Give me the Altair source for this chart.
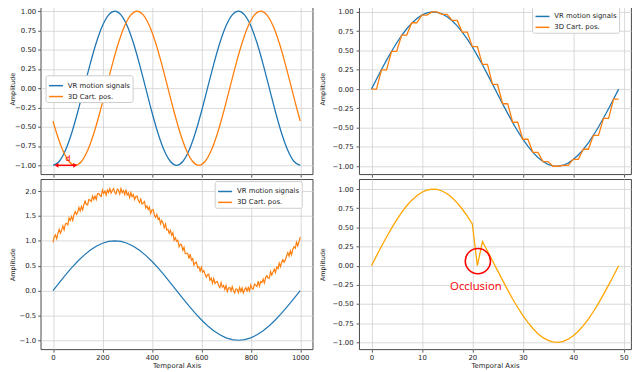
import altair as alt
import pandas as pd

VR = "VR motion signals"
CART = "3D Cart. pos."
BLUE = "#1f77b4"
ORANGE = "#ff7f0e"
LIGHT_ORANGE = "#ffa500"
FONT = "DejaVu Sans"

# ---------------- data ----------------
# top-left: phase-shifted signals
tl_vr_t = list(range(0, 1001, 25))
tl_vr = [-1.0, -0.951, -0.809, -0.588, -0.309, 0.0, 0.309, 0.588, 0.809, 0.951, 1.0,
         0.951, 0.809, 0.588, 0.309, 0.0, -0.309, -0.588, -0.809, -0.951, -1.0,
         -0.951, -0.809, -0.588, -0.309, 0.0, 0.309, 0.588, 0.809, 0.951, 1.0,
         0.951, 0.809, 0.588, 0.309, 0.0, -0.309, -0.588, -0.809, -0.951, -1.0]
tl_cart_t = [0] + list(range(15, 991, 25)) + [1000]
tl_cart = [-0.426, -0.588, -0.809, -0.951, -1.0, -0.951, -0.809, -0.588, -0.309, 0.0,
           0.309, 0.588, 0.809, 0.951, 1.0, 0.951, 0.809, 0.588, 0.309, 0.0,
           -0.309, -0.588, -0.809, -0.951, -1.0, -0.951, -0.809, -0.588, -0.309, 0.0,
           0.309, 0.588, 0.809, 0.951, 1.0, 0.951, 0.809, 0.588, 0.309, 0.0,
           -0.309, -0.426]

# top-right: sampled (staircase) signal
tr_t = list(range(0, 50))
tr_vr = [0.0, 0.128, 0.254, 0.375, 0.491, 0.598, 0.696, 0.782, 0.855, 0.914,
         0.959, 0.987, 1.0, 0.995, 0.975, 0.939, 0.887, 0.820, 0.740, 0.648,
         0.546, 0.434, 0.315, 0.191, 0.064, -0.064, -0.191, -0.315, -0.434, -0.546,
         -0.648, -0.740, -0.820, -0.887, -0.939, -0.975, -0.995, -1.0, -0.987, -0.959,
         -0.914, -0.855, -0.782, -0.696, -0.598, -0.491, -0.375, -0.254, -0.128, 0.0]
tr_cart = [0.0, 0.0, 0.25, 0.25, 0.49, 0.49, 0.70, 0.70, 0.86, 0.86,
           0.96, 0.96, 1.0, 1.0, 0.97, 0.97, 0.89, 0.89, 0.74, 0.74,
           0.55, 0.55, 0.32, 0.32, 0.06, 0.06, -0.19, -0.19, -0.43, -0.43,
           -0.65, -0.65, -0.82, -0.82, -0.94, -0.94, -1.0, -1.0, -0.99, -0.99,
           -0.91, -0.91, -0.78, -0.78, -0.60, -0.60, -0.38, -0.38, -0.13, -0.13]

# bottom-left: offset + noisy signal
bl_vr_t = list(range(0, 1001, 25))
bl_vr = [0.0, 0.156, 0.309, 0.454, 0.588, 0.707, 0.809, 0.891, 0.951, 0.988, 1.0,
         0.988, 0.951, 0.891, 0.809, 0.707, 0.588, 0.454, 0.309, 0.156, 0.0,
         -0.156, -0.309, -0.454, -0.588, -0.707, -0.809, -0.891, -0.951, -0.988, -1.0,
         -0.988, -0.951, -0.891, -0.809, -0.707, -0.588, -0.454, -0.309, -0.156, 0.0]
bl_cart_t = list(range(0, 1001, 5))
bl_cart = [0.97, 1.08, 1.12, 1.04, 1.15, 1.23, 1.15, 1.21, 1.30, 1.22, 1.34, 1.35, 1.32, 1.46, 1.41, 1.49, 1.41, 1.53, 1.59, 1.53,
           1.58, 1.67, 1.60, 1.69, 1.62, 1.73, 1.80, 1.73, 1.72, 1.83, 1.82, 1.79, 1.90, 1.83, 1.90, 1.83, 1.95, 1.95, 1.91, 1.89,
           2.02, 1.95, 2.00, 1.92, 2.02, 1.97, 2.05, 1.96, 2.01, 2.05, 1.97, 1.94, 2.04, 2.02, 1.94, 2.05, 1.97, 2.01, 1.93, 2.03,
           1.92, 1.96, 1.87, 1.97, 1.89, 1.93, 1.83, 1.89, 1.90, 1.81, 1.77, 1.84, 1.74, 1.76, 1.79, 1.66, 1.70, 1.63, 1.68, 1.55,
           1.62, 1.63, 1.52, 1.47, 1.53, 1.44, 1.46, 1.34, 1.41, 1.36, 1.26, 1.34, 1.22, 1.23, 1.15, 1.21, 1.11, 1.16, 1.01, 1.06,
           0.99, 1.01, 0.88, 0.93, 0.92, 0.81, 0.87, 0.74, 0.74, 0.75, 0.64, 0.73, 0.61, 0.64, 0.51, 0.56, 0.57, 0.46, 0.48, 0.39,
           0.47, 0.37, 0.40, 0.33, 0.27, 0.32, 0.33, 0.21, 0.25, 0.15, 0.24, 0.14, 0.17, 0.18, 0.10, 0.06, 0.16, 0.07, 0.10, 0.02,
           0.10, -0.02, 0.05, 0.06, -0.01, 0.08, 0.00, -0.05, 0.03, 0.02, -0.04, 0.06, -0.02, 0.05, -0.05, 0.02, 0.06, -0.01, 0.06, -0.01,
           0.11, 0.04, 0.03, 0.13, 0.11, 0.08, 0.19, 0.09, 0.18, 0.16, 0.23, 0.15, 0.26, 0.30, 0.25, 0.25, 0.38, 0.31, 0.37, 0.43,
           0.36, 0.47, 0.44, 0.55, 0.48, 0.57, 0.62, 0.57, 0.62, 0.70, 0.76, 0.69, 0.80, 0.72, 0.83, 0.88, 0.85, 0.97, 0.90, 0.98, 1.08]

# bottom-right: occluded signal
br_t = list(range(0, 50))
br_cart = [0.0, 0.128, 0.254, 0.375, 0.491, 0.598, 0.696, 0.782, 0.855, 0.914,
           0.959, 0.987, 1.0, 0.995, 0.975, 0.939, 0.887, 0.820, 0.740, 0.648,
           0.546, 0.0, 0.315, 0.191, 0.064, -0.064, -0.191, -0.315, -0.434, -0.546,
           -0.648, -0.740, -0.820, -0.887, -0.939, -0.975, -0.995, -1.0, -0.987, -0.959,
           -0.914, -0.855, -0.782, -0.696, -0.598, -0.491, -0.375, -0.254, -0.128, 0.0]

# annotations
arrow_t = [14, 90]
arrow_v = [-1.0, -1.0]
arrow_shapes = ["triangle-left", "triangle-right"]
d_label = {"t": [61], "v": [-0.92], "text": ["d"]}
occ_circle = {"t": [21.1], "v": [0.06]}
occ_label = {"t": [20.7], "v": [-0.28], "text": ["Occlusion"]}

x_ticks_long = [0, 200, 400, 600, 800, 1000]
x_ticks_short = [0, 10, 20, 30, 40, 50]
y_ticks_unit = [-1.0, -0.75, -0.5, -0.25, 0.0, 0.25, 0.5, 0.75, 1.0]
y_ticks_bl = [-1.0, -0.5, 0.0, 0.5, 1.0, 1.5, 2.0]

# ---------------- helpers ----------------
color_scale = alt.Scale(domain=[VR, CART], range=[BLUE, ORANGE])


def legend_at(x, y):
    return alt.Legend(title=None, orient="none", legendX=x, legendY=y,
                      symbolType="stroke", symbolStrokeWidth=1.5, symbolSize=200,
                      labelFontSize=7, labelFont=FONT, labelColor="#222222",
                      padding=2.5, rowPadding=-1, cornerRadius=2,
                      strokeColor="#cccccc", fillColor="#ffffff", labelOffset=4,
                      labelLimit=200)


def xenc(domain, ticks, bottom):
    if bottom:
        ax = alt.Axis(values=ticks, format="d", title="Temporal Axis",
                      labelPadding=1, titlePadding=2, grid=True)
    else:
        ax = alt.Axis(values=ticks, labels=False, title=None, grid=True)
    return alt.X("t:Q", scale=alt.Scale(domain=domain, nice=False, zero=False), axis=ax)


def yenc(domain, ticks, fmt, title_x, pad):
    ax = alt.Axis(values=ticks, format=fmt, title="Amplitude", titleX=title_x,
                  titleBaseline="middle", titleFontSize=6.5, labelPadding=pad, grid=True)
    return alt.Y("v:Q", scale=alt.Scale(domain=domain, nice=False, zero=False), axis=ax)


def series_df(t, v, name):
    return pd.DataFrame({"t": t, "v": v, "series": name})


X_LONG = [-50, 1050]
X_SHORT = [-2.45, 51.45]

# ---------------- top-left ----------------
tl_df = pd.concat([series_df(tl_vr_t, tl_vr, VR), series_df(tl_cart_t, tl_cart, CART)])
tl_x = xenc(X_LONG, x_ticks_long, False)
tl_y = yenc([-1.115, 1.103], y_ticks_unit, ".2f", -28.75, 2)
tl_lines = alt.Chart(tl_df).mark_line(strokeWidth=1.3, interpolate="monotone", clip=True).encode(
    x=tl_x, y=tl_y,
    color=alt.Color("series:N", scale=color_scale, legend=legend_at(5, 73)))
arrow_df = pd.DataFrame({"t": [arrow_t[0]], "t2": [arrow_t[1]], "v": [arrow_v[0]]})
tl_rule = alt.Chart(arrow_df).mark_rule(color="red", strokeWidth=1.5).encode(
    x=tl_x, x2="t2:Q", y=tl_y)
heads_df = pd.DataFrame({"t": arrow_t, "v": arrow_v, "shape": arrow_shapes})
tl_heads = alt.Chart(heads_df).mark_point(filled=True, color="red", size=22, opacity=1).encode(
    x=tl_x, y=tl_y, shape=alt.Shape("shape:N", scale=None))
tl_d = alt.Chart(pd.DataFrame(d_label)).mark_text(color="red", fontSize=8, font=FONT).encode(
    x=tl_x, y=tl_y, text="text:N")
tl = alt.layer(tl_lines, tl_rule, tl_heads, tl_d).properties(width=275, height=173)

# ---------------- top-right ----------------
tr_df = pd.concat([series_df(tr_t, tr_vr, VR), series_df(tr_t, tr_cart, CART)])
tr = alt.Chart(tr_df).mark_line(strokeWidth=1.3, clip=True).encode(
    x=xenc(X_SHORT, x_ticks_short, False),
    y=yenc([-1.103, 1.115], y_ticks_unit, ".2f", -36.5, 3),
    color=alt.Color("series:N", scale=color_scale, legend=legend_at(175, 3)),
).properties(width=275, height=173)

# ---------------- bottom-left ----------------
bl_df = pd.concat([series_df(bl_vr_t, bl_vr, VR), series_df(bl_cart_t, bl_cart, CART)])
bl = alt.Chart(bl_df).mark_line(strokeWidth=1.2, clip=True).encode(
    x=xenc(X_LONG, x_ticks_long, True),
    y=yenc([-1.18, 2.24], y_ticks_bl, ".1f", -28.75, 2),
    color=alt.Color("series:N", scale=color_scale, legend=legend_at(176, 2)),
).properties(width=275, height=172)

# ---------------- bottom-right ----------------
br_x = xenc(X_SHORT, x_ticks_short, True)
br_y = yenc([-1.09, 1.13], y_ticks_unit, ".2f", -36.5, 3)
br_line = alt.Chart(series_df(br_t, br_cart, CART)).mark_line(
    strokeWidth=1.3, color=LIGHT_ORANGE, clip=True).encode(x=br_x, y=br_y)
br_circle = alt.Chart(pd.DataFrame(occ_circle)).mark_point(
    shape="circle", size=650, filled=False, color="red", strokeWidth=1.6, opacity=1).encode(x=br_x, y=br_y)
br_text = alt.Chart(pd.DataFrame(occ_label)).mark_text(
    color="red", fontSize=11.5, font="Open Sans").encode(x=br_x, y=br_y, text="text:N")
br = alt.layer(br_line, br_circle, br_text).properties(width=275, height=172)

chart = alt.concat(tl, tr, bl, br, columns=2, spacing=alt.RowColnumber(row=5, column=47),
                   bounds="flush").resolve_scale(
    color="independent", x="independent", y="independent").resolve_legend(
    color="independent").properties(
    padding={"left": 0, "top": -8, "right": 0, "bottom": 0}).configure_axis(
    labelFont=FONT, labelFontSize=7, labelColor="#262626",
    titleFont=FONT, titleFontSize=7, titleColor="#262626", titleFontWeight="normal",
    tickColor="#333333", tickSize=3, tickWidth=0.8,
    gridColor="#d0d0d0", gridWidth=0.8, domain=False).configure_view(
    stroke="#333333", strokeWidth=0.9)

chart.save("out.html", embed_options={"renderer": "svg", "actions": False})
